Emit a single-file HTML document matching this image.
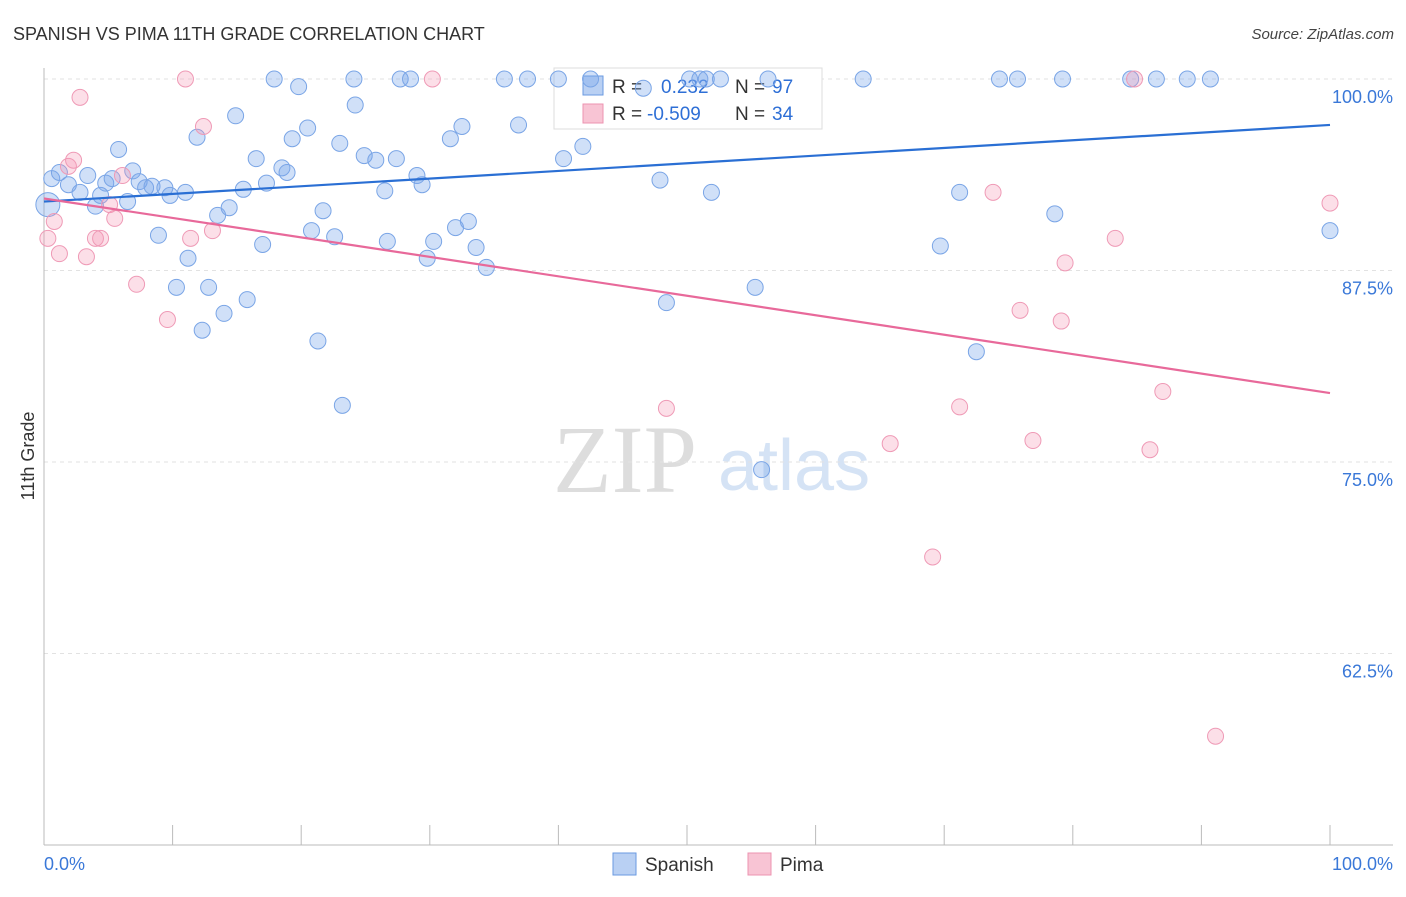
<!DOCTYPE html>
<html><head><meta charset="utf-8"><style>
body{margin:0;background:#fff;}
svg text{font-family:"Liberation Sans",sans-serif;}
svg text.serif{font-family:"Liberation Serif",serif;}
</style></head><body>
<svg id="chart" width="1406" height="892" xmlns="http://www.w3.org/2000/svg">
<text x="13" y="40" font-size="18" fill="#333">SPANISH VS PIMA 11TH GRADE CORRELATION CHART</text>
<text x="1394" y="39" font-size="15" fill="#444" text-anchor="end" font-style="italic">Source: ZipAtlas.com</text>
<g>
<text class="serif" x="553" y="492" font-size="96" fill="#ddd">ZIP</text>
<text x="718" y="490" font-size="72" fill="#d5e3f5">atlas</text>
</g>
<g id="grid"></g>
<g id="axes"></g>
<g>
<rect x="554" y="68" width="268" height="61" fill="#fff" stroke="#ddd"/>
<rect x="583" y="76" width="20" height="19" fill="#b9d0f3" stroke="#6a9ae0"/>
<text x="612" y="93" font-size="19" fill="#333">R =</text>
<text x="661" y="93" font-size="19" fill="#2e6fd6">0.232</text>
<text x="735" y="93" font-size="19" fill="#333">N =</text>
<text x="772" y="93" font-size="19" fill="#2e6fd6">97</text>
<rect x="583" y="104" width="20" height="19" fill="#f8c4d4" stroke="#ec93b0"/>
<text x="612" y="120" font-size="19" fill="#333">R =</text>
<text x="647" y="120" font-size="19" fill="#2e6fd6">-0.509</text>
<text x="735" y="120" font-size="19" fill="#333">N =</text>
<text x="772" y="120" font-size="19" fill="#2e6fd6">34</text>
</g>
<g id="marks"></g>
<text transform="translate(34,456) rotate(-90)" font-size="18" fill="#333" text-anchor="middle">11th Grade</text>
<g>
<rect x="613" y="853" width="23" height="22" fill="#b9d0f3" stroke="#6a9ae0"/>
<text x="645" y="871" font-size="19" fill="#333">Spanish</text>
</g>
<g>
<rect x="748" y="853" width="23" height="22" fill="#f8c4d4" stroke="#ec93b0"/>
<text x="780" y="871" font-size="19" fill="#333">Pima</text>
</g>
</svg>
<script>
const blueX=[0.6,1.2,1.9,2.8,3.4,4.0,4.4,4.8,5.3,5.8,6.5,6.9,7.4,7.9,8.4,8.9,9.4,9.8,10.3,11.0,11.2,11.9,12.3,12.8,13.5,14.0,14.4,14.9,15.5,15.8,16.5,17.0,17.3,17.9,18.5,18.9,19.3,19.8,20.5,20.8,21.3,21.7,22.6,23.0,23.2,24.1,24.2,24.9,25.8,26.5,26.7,27.4,27.7,28.5,29.0,29.4,29.8,30.3,31.6,32.0,32.5,33.0,33.6,34.4,35.8,36.9,37.6,40.0,40.4,41.9,42.5,46.6,47.9,48.4,50.2,51.0,51.5,51.9,52.6,55.3,55.8,56.3,63.7,69.7,71.2,72.5,74.3,75.7,78.6,79.2,84.5,86.5,88.9,90.7,100,0.3];
const blueY=[93.5,93.9,93.1,92.6,93.7,91.7,92.4,93.2,93.5,95.4,92.0,94.0,93.3,92.9,93.0,89.8,92.9,92.4,86.4,92.6,88.3,96.2,83.6,86.4,91.1,84.7,91.6,97.6,92.8,85.6,94.8,89.2,93.2,100,94.2,93.9,96.1,99.5,96.8,90.1,82.9,91.4,89.7,95.8,78.7,100,98.3,95.0,94.7,92.7,89.4,94.8,100,100,93.7,93.1,88.3,89.4,96.1,90.3,96.9,90.7,89.0,87.7,100,97.0,100,100,94.8,95.6,100,99.4,93.4,85.4,100,100,100,92.6,100,86.4,74.5,100,100,89.1,92.6,82.2,100,100,91.2,100,100,100,100,100,90.1,91.8];
const pinkX=[0.3,0.8,1.2,1.9,2.3,2.8,3.3,4.0,4.4,5.1,5.5,6.1,7.2,9.6,11.0,11.4,12.4,13.1,30.2,48.4,65.8,69.1,71.2,73.8,75.9,76.9,79.1,79.4,83.3,84.8,86.0,87.0,91.1,100];
const pinkY=[89.6,90.7,88.6,94.3,94.7,98.8,88.4,89.6,89.6,91.8,90.9,93.7,86.6,84.3,100,89.6,96.9,90.1,100,78.5,76.2,68.8,78.6,92.6,84.9,76.4,84.2,88.0,89.6,100,75.8,79.6,57.1,91.9];
const trendX=[0,100];
const blueTrend=[92.0,97.0];
const pinkTrend=[92.2,79.5];
const yTicks=[100,87.5,75,62.5];
const yTickLabels=["100.0%","87.5%","75.0%","62.5%"];
const xTicks=[0,10,20,30,40,50,60,70,80,90,100];

const NS="http://www.w3.org/2000/svg";
const sx=v=>44+v*12.86;
const sy=v=>845-(v-50)*15.32;
function mk(tag,attrs,parent){const e=document.createElementNS(NS,tag);for(const k in attrs)e.setAttribute(k,attrs[k]);parent.appendChild(e);return e;}
const grid=document.getElementById('grid'),axes=document.getElementById('axes'),marks=document.getElementById('marks');
yTicks.forEach((t,i)=>{
 const l=mk('line',{x1:44,x2:1393,y1:sy(t),y2:sy(t),stroke:'#e2e2e2','stroke-dasharray':'4,4'},grid);
 
 
 const tx=mk('text',{x:1393,y:sy(t)+24,'font-size':18,fill:'#3a78d8','text-anchor':'end'},axes);
 tx.textContent=yTickLabels[i];
 
 
});
let a=mk('line',{x1:44,x2:44,y1:68,y2:845,stroke:'#bbb'},axes);


a=mk('line',{x1:44,x2:1393,y1:845,y2:845,stroke:'#bbb'},axes);


xTicks.forEach(t=>{
 const l=mk('line',{x1:sx(t),x2:sx(t),y1:825,y2:845,stroke:'#bbb'},axes);
 
 
});
let xl=mk('text',{x:44,y:870,'font-size':18,fill:'#3a78d8'},axes);xl.textContent='0.0%';


xl=mk('text',{x:1393,y:870,'font-size':18,fill:'#3a78d8','text-anchor':'end'},axes);xl.textContent='100.0%';


blueX.forEach((x,i)=>{
 const c=mk('circle',{cx:sx(x),cy:sy(blueY[i]),r:i===blueX.length-1?12:8,fill:'rgba(120,165,235,0.35)',stroke:'#7aa5e6','stroke-width':1},marks);
 
 
});
pinkX.forEach((x,i)=>{
 const c=mk('circle',{cx:sx(x),cy:sy(pinkY[i]),r:8,fill:'rgba(245,150,180,0.3)',stroke:'#ef9ab6','stroke-width':1},marks);
 
 
});
let tl=mk('line',{x1:sx(trendX[0]),y1:sy(blueTrend[0]),x2:sx(trendX[1]),y2:sy(blueTrend[1]),stroke:'#2a6fd4','stroke-width':2.2},marks);


tl=mk('line',{x1:sx(trendX[0]),y1:sy(pinkTrend[0]),x2:sx(trendX[1]),y2:sy(pinkTrend[1]),stroke:'#e8699a','stroke-width':2.2},marks);


</script>
</body></html>
